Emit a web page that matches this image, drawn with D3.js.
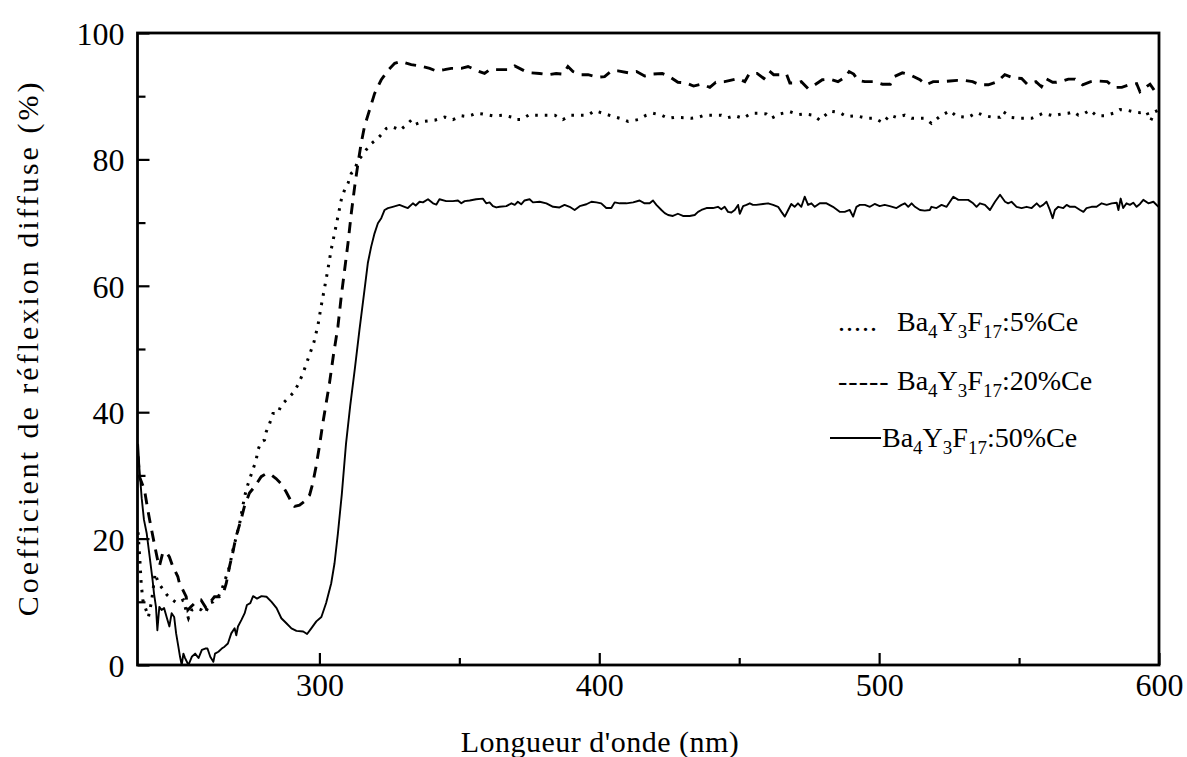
<!DOCTYPE html>
<html>
<head>
<meta charset="utf-8">
<script src="https://cdn.jsdelivr.net/npm/d3@7"></script>
<style>
  html, body { margin: 0; padding: 0; background: #fff; }
  svg { display: block; }
  text { font-family: "Liberation Serif", "Times New Roman", serif; fill: #000; }
</style>
</head>
<body>
<svg id="chart" width="1187" height="757"></svg>
<script>
// ---------- data ----------
const xTicksMajor = [300, 400, 500, 600];
const xTicksMinor = [350, 450, 550];
const yTicksMajor = [0, 20, 40, 60, 80, 100];
const yTicksMinor = [10, 30, 50, 70, 90];

// Ba4Y3F17:5%Ce (dotted)
const wl5 = [235.2,235.8,236.3,236.9,237.7,238.9,240.0,241.3,242.5,244.3,245.5,247.0,249.0,251.4,252.6,253.2,254.4,256.2,257.9,259.2,260.9,262.1,263.9,265.5,266.7,267.9,269.1,270.3,271.5,272.6,273.8,275.0,276.2,277.4,278.0,279.2,280.4,281.0,282.2,283.4,285.2,286.3,288.1,290.5,292.3,294.0,296.0,298.0,299.5,300.6,301.8,303.0,304.2,305.4,306.6,307.8,309.0,310.2,311.4,312.6,313.8,314.9,316.7,318.5,320.3,322.1,323.9,325.7,327.5,328.7,330.4,332.8,334.0,337.0,341.2,344.7,347.7,350.7,352.5,354.3,356.0,358.4,362.0,365.6,368.6,369.8,372.1,375.1,376.9,381.1,384.1,387.0,390.0,393.0,396.0,398.4,401.3,404.9,407.3,410.3,413.9,416.8,419.2,422.2,424.6,426.9,430.5,432.9,435.3,437.7,441.2,443.6,446.0,448.4,451.4,454.3,457.3,459.7,461.5,464.5,468.1,471.0,473.4,476.4,478.8,482.4,485.9,488.3,491.9,495.5,498.4,501.4,503.8,506.2,509.2,511.6,514.6,516.3,518.7,521.7,525.3,527.7,531.8,534.8,537.8,540.8,543.2,544.3,547.3,550.3,554.5,558.6,562.2,565.2,567.6,569.4,571.2,573.5,575.3,577.7,580.7,583.7,586.1,588.4,590.8,593.2,595.6,597.0,598.6,599.8];
const r5 = [21,17,13,10.3,9.2,7.6,10,14.5,12.9,11.9,11.1,10.5,9.8,10.3,8.2,7.4,8.7,9.0,8.7,8.2,9.8,10.0,10.8,12.4,14.0,15.6,18.2,20.3,22.4,25.1,27.7,29.3,30.9,32.4,34.0,35.3,35.6,36.9,38.2,39.8,39.8,41.1,41.9,43.0,44.3,46.0,48.5,51.0,53.8,56.7,59.6,62.5,65.7,68.3,70.9,73.6,75.2,76.2,77.8,78.3,79.9,80.4,81.5,82.5,83.1,83.9,84.9,85.2,84.9,84.6,85.2,86.2,85.5,86.0,86.2,86.7,86.3,86.9,86.8,87.0,87.3,87.2,86.9,87.0,86.7,86.3,86.3,87.1,87.0,87.0,87.0,86.3,87.0,87.0,87.0,87.7,87.3,86.8,86.5,86.0,86.3,87.0,87.3,87.0,86.5,86.65,86.6,86.5,86.65,87.0,87.0,87.0,86.6,86.9,86.5,87.3,87.3,87.2,86.5,87.2,87.55,87.1,87.2,87.0,86.2,87.65,87.4,86.8,86.9,86.5,86.5,85.8,87.0,86.65,87.0,86.5,86.5,86.5,85.7,86.8,87.7,86.8,86.65,87.4,86.9,86.65,86.65,87.55,86.65,86.5,86.5,87.3,86.9,87.2,87.3,87.55,87.0,87.3,87.8,86.9,86.9,87.3,87.9,87.8,87.55,87.4,87.55,86.1,87.55,87.8];

// Ba4Y3F17:20%Ce (dashed)
const wl20 = [235.2,235.7,237.5,238.7,239.8,241.0,242.2,242.8,244.0,245.2,246.4,247.6,249.4,250.0,251.2,252.4,253.0,254.1,255.9,257.7,259.5,260.7,262.5,264.3,265.5,266.7,267.9,269.0,270.2,272.0,273.2,275.0,276.8,279.2,281.0,282.7,284.5,286.3,288.1,289.9,291.1,292.9,294.7,296.5,297.6,298.8,300.0,301.2,302.4,303.6,305.0,306.6,307.8,309.0,310.2,311.4,312.6,313.8,314.9,316.1,317.9,319.7,322.1,324.5,326.9,329.2,332.8,335.8,339.4,341.7,344.7,347.1,350.7,353.1,356.6,359.0,360.8,363.8,367.4,369.8,373.3,375.7,378.7,381.7,384.6,387.0,388.8,390.6,393.6,396.0,399.5,401.9,404.3,406.7,410.3,413.3,416.2,419.2,422.5,425.4,428.1,430.9,433.7,436.5,439.5,441.6,444.8,446.8,449.6,452.0,453.5,456.4,458.8,460.7,462.3,464.5,466.9,468.1,471.0,472.2,474.6,477.0,479.7,482.4,485.3,488.1,489.3,490.9,492.5,494.9,498.1,501.2,504.0,505.4,508.3,511.0,514.6,516.7,519.3,521.9,525.3,527.9,530.6,533.4,536.0,539.0,542.2,544.9,547.9,550.9,552.9,556.0,558.0,559.6,562.0,563.4,565.6,567.6,570.0,572.7,575.6,578.3,581.5,583.9,586.7,589.4,592.0,593.2,595.8,596.8,598.2,599.8];
const r20 = [33,29.8,27.7,24.5,21.9,19.2,16.6,15.6,17.7,17.9,17.1,15.6,14.0,12.9,11.9,10.8,8.7,9.2,10.0,10.3,9.0,9.8,10.8,10.8,11.1,12.9,15.6,17.7,20.3,23.0,25.1,27.2,28.2,29.8,30.3,30.1,29.5,28.7,27.4,25.9,25.1,25.3,25.9,26.9,28.7,31.4,34.6,38.2,41.4,44.6,49.0,53.5,58.3,62.5,66.7,71.5,75.7,79.4,82.5,85.2,87.8,90.4,92.6,94.1,95.2,95.5,95.0,94.8,94.4,94.0,94.2,94.4,94.4,94.7,94.0,93.6,94.2,94.2,94.2,94.8,94.0,93.7,93.6,93.4,93.6,93.5,94.7,93.9,93.4,93.4,93.0,93.1,94.0,94.0,93.7,93.9,93.2,93.5,93.6,93.0,92.2,92.1,91.6,91.9,91.4,92.2,92.3,92.5,92.8,92.3,93.5,93.6,92.8,94.0,93.4,93.4,93.5,92.1,92.1,92.3,91.2,91.8,92.6,92.7,92.3,93.1,93.9,93.5,92.5,92.3,92.3,91.9,91.9,93.1,93.7,93.4,92.6,91.8,92.3,92.3,92.4,92.5,92.5,92.3,91.8,91.8,92.3,93.4,92.9,92.8,91.9,92.3,91.5,92.8,92.2,92.2,92.4,92.7,92.7,91.8,92.3,92.4,92.3,91.4,91.4,91.8,92.0,90.7,91.6,91.9,91.0,90.0];

// Ba4Y3F17:50%Ce (solid)
const wl50 = [235.2,235.7,236.5,237.3,238.3,239.5,240.4,240.9,241.6,242.1,242.8,243.6,244.5,245.4,246.4,247.2,248.1,248.8,249.6,250.2,250.8,251.4,252.0,253.2,254.4,255.6,256.8,258.0,259.2,260.0,261.0,262.1,262.7,263.9,265.1,266.1,267.3,268.5,269.7,270.3,270.9,272.1,273.3,274.1,275.3,276.3,277.7,279.3,281.1,282.9,284.7,286.4,288.2,290.0,291.8,294.2,295.6,297.1,298.9,300.7,302.4,304.2,305.4,306.6,308.0,309.5,311.0,312.7,314.3,316.1,317.3,318.5,319.7,320.9,322.1,323.3,324.5,326.2,328.6,330.4,331.6,333.4,334.4,335.8,337.0,338.8,340.6,341.8,342.9,345.3,347.7,349.5,350.7,351.9,353.7,356.0,358.4,359.6,360.8,362.0,363.2,364.4,366.8,368.6,369.8,370.9,372.1,373.3,375.1,376.3,378.7,381.1,383.5,385.8,387.6,389.4,391.2,393.0,395.4,397.2,399.0,400.7,402.5,404.3,405.5,407.3,409.7,412.1,414.4,416.2,418.0,419.2,420.4,422.2,423.4,424.6,426.3,428.1,429.9,432.3,434.1,435.3,436.5,438.3,440.6,442.4,443.6,444.8,446.0,447.2,448.4,449.6,450.2,451.4,452.6,453.8,454.9,456.1,458.5,460.3,462.1,463.9,465.1,466.3,467.5,468.6,469.8,471.0,472.2,473.4,474.6,475.8,477.0,478.8,481.2,483.5,485.9,487.7,489.5,490.7,491.9,493.1,494.9,496.7,498.4,500.2,502.0,503.8,506.2,508.0,509.2,510.4,511.6,512.8,514.6,516.3,518.1,518.7,520.5,522.3,524.1,525.3,526.5,528.3,530.0,531.8,533.6,534.8,536.0,537.8,539.6,541.4,543.2,545.0,546.1,547.3,549.1,550.9,552.7,554.5,556.3,557.5,558.6,559.8,561.0,562.0,562.8,564.0,565.8,567.0,568.2,570.0,571.8,573.0,574.1,575.9,577.7,579.5,581.3,583.1,584.9,585.5,586.3,587.2,588.4,589.6,590.8,592.0,593.2,594.4,596.2,598.0,599.8];
const r50 = [35,31,26.4,23,20.8,16.6,13.4,11.3,9.2,5.5,9.2,8.7,9.0,7.6,6.1,8.2,7.6,5.0,2.9,1.3,0,1.8,1.1,0,1.3,1.8,1.1,2.4,2.6,2.6,1.3,0.5,1.8,2.1,2.6,2.9,3.4,5.0,5.8,4.7,6.1,7.1,8.2,9.5,9.8,10.9,10.5,10.9,10.8,10.0,9.0,7.4,6.6,5.8,5.4,5.3,4.9,5.8,6.9,7.6,9.8,12.9,16.1,20.8,27,35,41,47,53.0,59.3,63.6,66.2,68.3,69.9,70.7,72.0,72.3,72.5,72.8,72.5,72.3,73.05,72.7,73.3,73.2,73.7,73.05,72.85,73.7,73.4,73.4,73.5,73.05,73.4,73.5,73.7,73.8,73.05,73.2,72.6,72.4,72.5,72.6,73.05,72.8,73.3,72.9,73.5,73.7,73.2,73.3,73.05,72.5,72.4,72.8,72.5,72.0,72.6,72.9,73.3,73.2,73.05,72.3,72.3,73.2,73.05,73.05,73.2,73.5,73.05,73.05,73.5,72.8,72.0,71.5,71.2,71.05,71.4,71.05,71.05,71.2,71.7,72.0,72.3,72.3,72.5,72.1,72.5,71.7,71.6,72.0,72.8,71.4,72.6,72.8,73.05,72.8,72.8,72.95,73.05,72.8,72.5,71.7,70.95,72.0,72.95,72.5,73.05,72.5,74.1,72.8,73.05,72.5,73.05,73.05,72.5,71.7,71.7,72.0,70.95,72.5,72.8,72.8,72.5,72.95,72.6,72.8,72.6,72.3,72.8,73.05,72.5,73.05,72.5,72.0,71.9,72.0,72.5,72.3,72.8,72.5,73.3,74.1,73.6,73.6,73.6,73.05,72.5,73.05,72.8,72.0,73.3,74.4,73.3,73.05,73.3,72.5,72.3,72.5,72.3,73.05,72.5,72.8,73.3,72.0,70.7,72.0,72.5,72.3,72.8,72.5,72.5,72.0,71.7,72.3,72.5,72.5,73.05,72.8,73.05,73.15,72.0,73.8,72.3,73.05,72.8,73.15,72.5,72.95,73.6,73.05,73.3,72.5];

const legendLabels = ["5", "20", "50"];

// ---------- chart ----------
const SERIF = "'Liberation Serif', 'Times New Roman', serif";
const svg = d3.select("#chart");
const pL = 137.5, pR = 1159, pT = 33, pB = 665;

const x = d3.scaleLinear().domain([235, 600]).range([pL, pR]);
const y = d3.scaleLinear().domain([0, 100]).range([pB, pT]);

const defs = svg.append("defs");
defs.append("clipPath").attr("id", "clip")
  .append("rect").attr("x", pL).attr("y", pT - 2).attr("width", pR - pL).attr("height", pB - pT + 2);

const line = d3.line().x(d => x(d[0])).y(d => y(d[1]));

const g = svg.append("g").attr("clip-path", "url(#clip)");
g.append("path").datum(d3.zip(wl5, r5)).attr("d", line)
  .attr("fill", "none").attr("stroke", "#000").attr("stroke-width", 3)
  .attr("stroke-dasharray", "2.6,7");
g.append("path").datum(d3.zip(wl20, r20)).attr("d", line)
  .attr("fill", "none").attr("stroke", "#000").attr("stroke-width", 2.9)
  .attr("stroke-dasharray", "11,8");
g.append("path").datum(d3.zip(wl50, r50)).attr("d", line)
  .attr("fill", "none").attr("stroke", "#000").attr("stroke-width", 1.9)
  .attr("stroke-linejoin", "round");

// axes
const fontTick = 32;
const xAxis = svg.append("g").attr("transform", `translate(0,${pB})`)
  .call(d3.axisBottom(x).tickValues(xTicksMajor).tickSize(-12).tickPadding(8).tickFormat(d3.format("d")));
const xMinor = svg.append("g").attr("transform", `translate(0,${pB})`)
  .call(d3.axisBottom(x).tickValues(xTicksMinor).tickSize(-7).tickFormat(""));
const yAxis = svg.append("g").attr("transform", `translate(${pL},0)`)
  .call(d3.axisLeft(y).tickValues(yTicksMajor).tickSize(-12).tickPadding(13).tickFormat(d3.format("d")));
const yMinor = svg.append("g").attr("transform", `translate(${pL},0)`)
  .call(d3.axisLeft(y).tickValues(yTicksMinor).tickSize(-8).tickFormat(""));

[xAxis, xMinor, yAxis, yMinor].forEach(a => {
  a.attr("font-family", SERIF).style("font-family", SERIF);
  a.select(".domain").remove();
  a.selectAll("line").attr("stroke", "#000").attr("stroke-width", 2.2);
  a.selectAll("text").attr("font-size", fontTick).style("font-family", SERIF).attr("fill", "#000");
});
yAxis.selectAll("text").attr("dy", "0.36em");

// frame
svg.append("rect").attr("x", pL).attr("y", pT).attr("width", pR - pL).attr("height", pB - pT)
  .attr("fill", "none").attr("stroke", "#000").attr("stroke-width", 2.8);

// axis titles
svg.append("text").attr("x", 600).attr("y", 752).style("font-family", SERIF)
  .attr("text-anchor", "middle").attr("font-size", 30).attr("letter-spacing", 0.5)
  .text("Longueur d'onde (nm)");
svg.append("text").attr("transform", `translate(38,348) rotate(-90)`).style("font-family", SERIF)
  .attr("text-anchor", "middle").attr("font-size", 30).attr("letter-spacing", 3)
  .text("Coefficient de réflexion diffuse (%)");

// legend
const legendRows = [
  {sym: ".....", symX: 838, tx: 897, y: 331, conc: legendLabels[0]},
  {sym: "-----", symX: 838, tx: 897, y: 390, conc: legendLabels[1]},
  {sym: null,    symX: 830, tx: 882, y: 447, conc: legendLabels[2]}
];
const fs = 28, sfs = 19, sh = 7;
legendRows.forEach(r => {
  if (r.sym) {
    svg.append("text").attr("x", r.symX).attr("y", r.y).attr("font-size", fs)
      .style("font-family", SERIF).attr("letter-spacing", 1).text(r.sym);
  } else {
    svg.append("line").attr("x1", r.symX).attr("x2", 881).attr("y1", r.y - 9).attr("y2", r.y - 9)
      .attr("stroke", "#000").attr("stroke-width", 1.8);
  }
  const t = svg.append("text").attr("x", r.tx).attr("y", r.y).attr("font-size", fs).style("font-family", SERIF);
  t.append("tspan").text("Ba");
  t.append("tspan").attr("font-size", sfs).attr("dy", sh).text("4");
  t.append("tspan").attr("dy", -sh).text("Y");
  t.append("tspan").attr("font-size", sfs).attr("dy", sh).text("3");
  t.append("tspan").attr("dy", -sh).text("F");
  t.append("tspan").attr("font-size", sfs).attr("dy", sh).text("17");
  t.append("tspan").attr("dy", -sh).text(":" + r.conc + "%Ce");
});
</script>
</body>
</html>
